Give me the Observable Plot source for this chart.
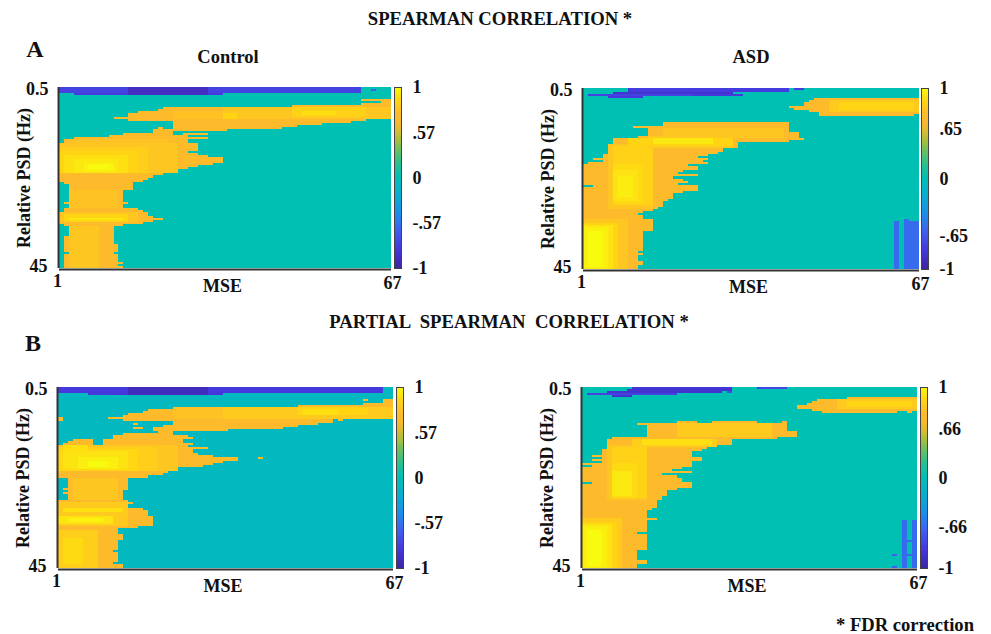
<!DOCTYPE html>
<html><head><meta charset="utf-8">
<script src="https://cdn.jsdelivr.net/npm/d3@7"></script>
<script src="https://cdn.jsdelivr.net/npm/@observablehq/plot@0.6"></script>
<style>
html,body{margin:0;padding:0;background:#fff}
body{position:relative;width:991px;height:634px;overflow:hidden;font-family:"Liberation Serif",serif;font-weight:bold;color:#111}
.t{position:absolute;white-space:pre;transform:translate(-50%,-50%);font-size:17px}
svg{position:absolute;overflow:visible}
</style></head><body>
<script>
// Every span: [Hz from, Hz to (last row), first MSE scale, last MSE scale, rho]
const rhoStops=[-1,-.8,-.6,-.4,-.2,0,.2,.4,.5,.6,.7,.84,1];
const rhoColors=["#3e26a8","#4538dc","#3f5ff0","#1a90e8","#08aecf","#00bfb3","#3fc07f","#a5bf3f","#d8bc35","#f7b92e","#fdbb2c","#ffd513","#f9fb0e"];

const controlBlue=[[.5,1.5,1,61,-.75],[2,2,4,33,-.78],[1,1,64,64,-.6],[.5,2,15,30,-.9]];
const controlMask=[[3.5,3.5,62,67],[4,4.5,66,67],[4.5,4.5,62,65],[5,5,48,67],[5.5,5.5,22,67],[6,6,21,67],[6.5,6.5,17,67],[7,7.5,15,67],[8,8,12,67],[8.5,8.5,15,62],[9,9,24,59],[9.5,9.5,24,53],[10,10,24,48],[10.5,10.5,24,45],[10.5,10.5,21,21],[11,11,24,34],[11,11.5,20,23],[12,12,14,23],[12,12,26,30],[12.5,12.5,11,26],[13,13,4,26],[13,13,27,30],[13.5,14,2,26],[14.5,16,1,28],[16.5,16.5,1,26],[17,17,1,28],[17.5,17.5,1,30],[18,19,1,33],[19.5,19.5,1,31],[20,20,1,28],[20.5,20.5,1,26],[21,21.5,1,24],[22,22,1,21],[22.5,22.5,1,19],[23,23,1,18],[23.5,23.5,1,17],[24,24,2,15],[24.5,25.5,3,15],[26,28.5,3,13],[29,29,2,14],[29.5,30,3,13],[30.5,30.5,2,16],[31,31,2,17],[31.5,32,1,18],[32.5,32.5,1,19],[33,33,1,21],[33.5,33.5,1,19],[34,34,1,17],[34.5,34.5,2,13],[35,37,3,11],[37.5,39,2,11],[39.5,41,2,12],[41.5,41.5,3,11],[42,43.5,2,12],[44,44,2,13],[44.5,44.5,2,12],[45,45,2,13]];
const controlTone=[[13.5,14,3,22,.74],[14.5,21.5,1,24,.76],[15.5,21.5,1,18,.8],[16.5,21.5,1,16,.84],[17.5,21.5,2,14,.88],[18.5,21.5,4,12,.92],[19.5,21,6,11,.96],[20,20.5,7,10,1],[26,30,3,12,.74],[31.5,33.5,1,16,.76],[32,33.5,2,14,.84],[33,33,3,13,.92],[35,45,3,8,.76],[6.5,8,24,66,.74],[5.5,8,34,67,.76],[5.5,7.5,48,62,.82],[6.5,7,50,56,.88],[7,8,34,36,.84]];

const asdBlue=[[.5,1,10,41,-.78],[.5,.5,43,44,-.78],[1.5,1.5,7,30,-.85],[2,2,2,22,-.75],[2,2,23,32,-.8],[2.5,2.5,6,12,-.8]];
const asdMask=[[3,3,47,67],[3.5,3.5,46,67],[4,4.5,45,67],[5,5,42,67],[5.5,5.5,43,67],[6,6,46,67],[6.5,6.5,48,67],[7,7,48,66],[9,9.5,17,41],[10,10,11,41],[10.5,11,14,41],[11.5,12,14,43],[12.5,12.5,12,43],[13,13,7,44],[13.5,13.5,7,41],[14,14,7,31],[14.5,15,6,31],[15.5,15.5,7,28],[16,16,6,28],[16.5,16.5,6,27],[17,17,5,25],[17.5,17.5,5,23],[18,18,3,25],[18.5,18.5,5,24],[19,19,2,25],[19.5,19.5,1,21],[20,20.5,1,23],[21,21,1,20],[21.5,21.5,1,19],[22,22,1,23],[22.5,22.5,1,18],[23,23,1,20],[23.5,23.5,1,21],[24,24,1,19],[24.5,24.5,3,23],[25,25.5,1,23],[26,26,1,20],[26.5,27.5,1,18],[28,28,1,17],[28.5,29.5,1,16],[30,30,1,15],[30.5,30.5,1,14],[31,31,1,12],[31.5,31.5,1,11],[32,32.5,1,12],[33,35.5,1,14],[36,40.5,1,12],[41,41,1,11],[41.5,41.5,1,12],[42,43,1,11],[43.5,44,1,12],[44.5,45,1,11]];
const asdTone=[[33,45,1,9,.76],[34,45,1,7,.84],[34.5,45,1,6,.9],[35,45,1,5,.95],[36,44.5,2,4,1],[14.5,30,6,14,.76],[15,29,7,14,.82],[19.5,28.5,7,12,.86],[21,28,7,11,.9],[22.5,27,8,10,.94],[12.5,15,14,30,.78],[13,14.5,10,30,.84],[13,14,15,26,.92],[10.5,12.5,17,40,.76],[3.5,6,50,67,.78],[4,5.5,52,66,.84]];
const asdLow=[[33.5,45,63,63,-.55],[33,45,65,65,-.55],[33.5,45,66,67,-.55]];

const controlPBlue=[[.5,1.5,1,65,-.8],[2,2,7,11,-.8],[2,2,12,33,-.82],[.5,2,15,30,-.92]];
const controlPMask=[[3.5,3.5,62,62],[3.5,4,66,67],[4.5,4.5,62,67],[5,5,49,67],[5.5,5.5,24,67],[6,6,19,67],[6.5,6.5,18,67],[7,7,15,67],[7.5,7.5,14,67],[8,8,11,67],[8,8.5,1,1],[8.5,8.5,14,55],[8.5,8.5,57,57],[9,9,24,55],[9.5,9.5,16,16],[9.5,9.5,24,52],[10,10,22,48],[10.5,10.5,16,17],[10.5,10.5,20,45],[11,11,20,34],[11.5,11.5,21,23],[12,12,14,23],[12.5,12.5,12,26],[13,13,12,27],[13.5,14,10,25],[13.5,13.5,4,7],[14,14,3,7],[14.5,14.5,2,7],[14.5,14.5,10,27],[15,15,1,26],[15.5,15.5,1,30],[16,16.5,1,27],[17,17,1,28],[17.5,17.5,1,31],[18,18.5,1,36],[18,18,41,41],[19,19,1,33],[19.5,19.5,1,31],[20,20,1,29],[20.5,21,1,24],[21.5,21.5,1,22],[22,22,1,21],[22.5,22.5,1,18],[23,25.5,3,14],[25.5,25.5,2,13],[26,26,3,13],[26.5,26.5,2,13],[27,28,3,13],[28.5,28.5,1,14],[29,29,1,15],[29.5,30,1,14],[30.5,30.5,1,17],[31,32,1,18],[32.5,34.5,1,19],[35,35,1,16],[35.5,36.5,1,12],[37,38,1,13],[38.5,40.5,1,12],[41,41,1,11],[41.5,43.5,1,12],[44,44,1,11],[44.5,45,1,13]];
const controlPTone=[[15,21,1,24,.76],[15.5,21,1,20,.8],[16,21,1,16,.85],[16.5,20.5,2,14,.9],[18,20.5,5,12,.95],[19,20,7,10,1],[15,16.5,2,6,.88],[23,28,4,12,.76],[29,34.5,1,14,.78],[30.5,31,2,13,.88],[32.5,34,1,11,.9],[33,33.5,3,9,.96],[36,45,1,8,.8],[38,44,2,5,.86],[5.5,8,24,67,.74],[5.5,8,34,67,.78],[5.5,7,49,62,.84],[6,7,50,56,.88]];

const asdPBlue=[[.5,.5,11,30,-.82],[.5,.5,36,41,-.72],[1,1,10,30,-.85],[1.5,1.5,6,28,-.85],[1.5,1.5,30,30,-.7],[2,2,2,19,-.75],[2.5,2.5,7,10,-.85]];
const asdPMask=[[3,3,54,67],[3.5,3.5,48,67],[4,4,47,67],[4.5,4.5,46,67],[5,5.5,44,67],[6,6,47,67],[6.5,6.5,49,63],[6.5,6.5,66,66],[9,9,20,23],[9,9,27,35],[9,9,41,41],[9.5,9.5,12,41],[10,11,14,41],[11.5,12.5,14,43],[13,13,7,39],[13.5,14.5,6,30],[15,15,6,27],[15.5,15.5,6,25],[16,16,5,24],[16.5,17,5,22],[17.5,17.5,3,22],[18,18,5,24],[18.5,18.5,3,24],[19,19,5,22],[19.5,19.5,1,22],[20,20,3,22],[20.5,20.5,1,20],[21,21,1,18],[21.5,21.5,1,22],[22,22,1,16],[22.5,22.5,1,19],[23,23.5,1,20],[24,24,3,22],[24.5,25,1,22],[25.5,25.5,1,19],[26,26,1,17],[26.5,27,1,17],[27.5,28,1,16],[28.5,29.5,1,15],[30,30,1,15],[30.5,30.5,1,14],[31,32.5,1,13],[33,33,1,15],[33.5,36,1,13],[36.5,36.5,1,11],[37,40.5,1,13],[41,43,1,11],[43.5,44,1,13],[44.5,45,1,11]];
const asdPTone=[[33,45,1,8,.78],[34,45,1,7,.84],[34.5,45,1,6,.9],[35,45,1,5,.95],[36,44.5,2,4,1],[15,28,6,13,.76],[15.5,27.5,7,13,.82],[19.5,27.5,7,11,.86],[21.5,27,7,10,.92],[13.5,15,11,27,.8],[13.5,14.5,13,26,.88],[9.5,12.5,20,38,.78],[3.5,5.5,52,67,.78],[4,5,54,66,.84]];
const asdPLow=[[33.5,45,65,65,-.55],[33.5,45,67,67,-.55],[38.5,38.5,66,66,-.55],[42,42,66,66,-.55],[42,42,63,63,-.6],[45,45,63,63,-.6]];

const barLevels=d3.range(-1,1,2/64);
const barTicks=[1,.5,0,-.5,-1];
const labelsA=["1",".57","0","-.57","-1"], labelsB=["1",".65","0","-.65","-1"], labelsC=["1",".66","0","-.66","-1"];

const font='"Liberation Serif",serif';
const colorScale={type:"linear",domain:rhoStops,range:rhoColors,clamp:true};
const fontStyle={fontFamily:font,fontSize:"18px",fontWeight:"bold",color:"#111",background:"transparent",position:"absolute"};

function place(svg,left,top){svg.style.left=left+"px";svg.style.top=top+"px";document.body.appendChild(svg);}

function panel({x0,x1,y0,y1,bg,blue,mask,tone,low=[],barX,barW,labels,barTicksAt=barTicks}){
  const spans=[...blue,...mask.map(d=>[...d,.7]),...tone,...low];
  const base=[[.5,45,1,67,bg]];
  const rect=data=>Plot.rect(data,{x1:d=>d[2],x2:d=>d[3]+1,y1:d=>d[0],y2:d=>d[1]+.5,fill:d=>d[4],shapeRendering:"crispEdges"});
  const ml=60,mt=14,mr=10,mb=40;
  const fig=Plot.plot({
    width:x1-x0+ml+mr,height:y1-y0+mt+mb,marginLeft:ml,marginRight:mr,marginTop:mt,marginBottom:mb,
    style:fontStyle,
    x:{domain:[1,68]},
    y:{domain:[.5,45.5],reverse:true},
    color:colorScale,
    marks:[
      rect(base),rect(spans),
      Plot.ruleX([1],{stroke:"#333",strokeWidth:2,dx:-1}),
      Plot.ruleY([45.5],{stroke:"#333",strokeWidth:2,dy:1}),
      Plot.axisX([1],{tickSize:0,tickPadding:6,label:null,dx:-2,tickFormat:String}),
      Plot.axisX([67],{tickSize:0,tickPadding:8,label:null,dx:6,tickFormat:String}),
      Plot.axisY([.5],{tickSize:0,tickPadding:11,label:null,dy:2,tickFormat:String}),
      Plot.axisY([45],{tickSize:0,tickPadding:12,label:null,tickFormat:String}),
      Plot.text(["MSE"],{frameAnchor:"bottom",dy:23,dx:-3}),
      Plot.text(["Relative PSD (Hz)"],{frameAnchor:"left",rotate:-90,dx:-35,textAnchor:"middle"})
    ]});
  place(fig,x0-ml,y0-mt);
  const bar=Plot.plot({
    width:barW+45,height:y1-y0+20,marginLeft:1,marginRight:44,marginTop:10,marginBottom:10,
    style:fontStyle,
    x:{axis:null,domain:[0,1]},
    y:{domain:[-1,1]},
    color:colorScale,
    marks:[
      Plot.rect(barLevels,{x1:0,x2:1,y1:d=>d,y2:d=>d+2/64,fill:d=>d,shapeRendering:"crispEdges"}),
      Plot.frame({stroke:"#444",strokeWidth:1}),
      Plot.axisY(barTicksAt,{anchor:"right",tickSize:0,tickPadding:11,label:null,textAnchor:"start",tickFormat:(d,i)=>labels[i]})
    ]});
  place(bar,barX-1,y0-10);
}

panel({x0:59,x1:391,y0:87,y1:268,bg:0,blue:controlBlue,mask:controlMask,tone:controlTone,barX:394,barW:7,labels:labelsA});
panel({x0:583,x1:919,y0:88,y1:269,bg:0,blue:asdBlue,mask:asdMask,tone:asdTone,low:asdLow,barX:921,barW:7,labels:labelsB,barTicksAt:[1,.55,0,-.63,-1]});
panel({x0:58,x1:393,y0:387,y1:568,bg:-.08,blue:controlPBlue,mask:controlPMask,tone:controlPTone,barX:396,barW:7,labels:labelsA});
panel({x0:582,x1:917,y0:387,y1:568,bg:0,blue:asdPBlue,mask:asdPMask,tone:asdPTone,low:asdPLow,barX:920,barW:7,labels:labelsC,barTicksAt:[1,.54,0,-.54,-1]});

const texts=[["SPEARMAN CORRELATION *",500,19,18.7],["PARTIAL  SPEARMAN  CORRELATION *",509,322,18.7],["A",35,49,24],["B",33,343,24],["Control",228,57,18.5],["ASD",751,57,18.5],["* FDR correction",905,625,18.6]];
for(const [s,x,y,size] of texts){const d=document.createElement("div");d.className="t";d.textContent=s;d.style.left=x+"px";d.style.top=y+"px";d.style.fontSize=size+"px";document.body.appendChild(d);}
</script></body></html>
